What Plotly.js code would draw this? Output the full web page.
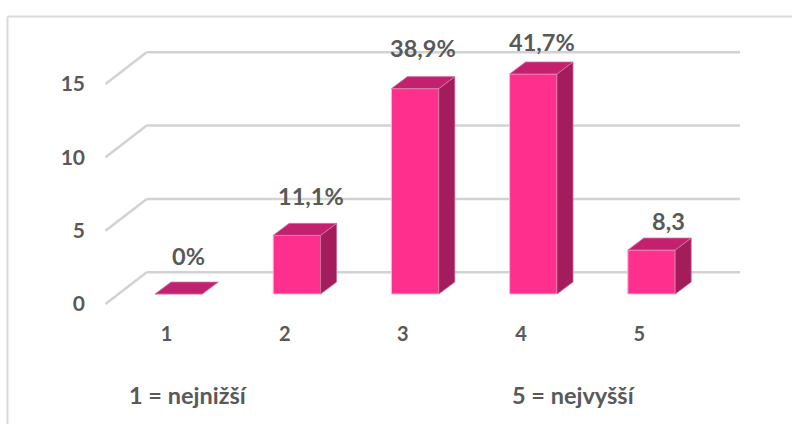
<!DOCTYPE html>
<html>
<head>
<meta charset="utf-8">
<script src="https://cdn.plot.ly/plotly-3.0.1.min.js"></script>
<style>html,body{margin:0;padding:0;background:#fff}#c{width:792px;height:424px}</style>
</head>
<body>
<div id="c"></div>
<script>
// Data
const categories = [1, 2, 3, 4, 5];
const seriesValues = [0, 4, 14, 15, 3];
const dataLabels = ['0%', '11,1%', '38,9%', '41,7%', '8,3'];
const yTicks = [0, 5, 10, 15];
const captions = ['1 = nejnižší', '5 = nejvyšší'];

// Pixel scale of the canvas (one axis frame spans the page)
const W = 792, H = 424;
const pxPerCat = 118.2, pxPerUnit = 14.67;
const xOriginPx = 166.5, yOriginPx = 304;   // where category 1 / value 0 falls
const xr = [1 - xOriginPx / pxPerCat, 1 + (W - xOriginPx) / pxPerCat];
const yr = [(yOriginPx - H) / pxPerUnit, yOriginPx / pxPerUnit];
const dX = p => p / pxPerCat, dY = p => p / pxPerUnit;
const pxX = p => 1 + (p - xOriginPx) / pxPerCat;

// 3D projection offsets
const frontDX = dX(12.2), frontDY = dY(10);
const depthDX = dX(16), depthDY = dY(12);
const barW = dX(47.4);
const floorBackDY = dY(31.7);
const wallLeft = pxX(146.7), wallRight = pxX(740), floorLeft = pxX(105.5);

const FRONT = '#FF2F8E', TOP = '#C2216F', SIDE = '#A31D5C', EDGE = '#F3BBD4';
const GRID = '#D2D2D2', TEXT = '#595959', FONT = 'Lato, Carlito, "Noto Sans", sans-serif';

// Top and side faces, derived from the values
const topX = [], topY = [], sideX = [], sideY = [];
categories.forEach((c, i) => {
  const l = c + frontDX - barW / 2, r = c + frontDX + barW / 2;
  const b = frontDY, t = frontDY + seriesValues[i];
  topX.push(l, r, r + depthDX, l + depthDX, l, null);
  topY.push(t, t, t + depthDY, t + depthDY, t, null);
  if (seriesValues[i] > 0) {
    sideX.push(r, r + depthDX, r + depthDX, r, r, null);
    sideY.push(b, b + depthDY, t + depthDY, t, b, null);
  }
});

const traces = [
  { type: 'bar', x: categories.map(c => c + frontDX), y: seriesValues,
    base: categories.map(() => frontDY), width: barW,
    marker: { color: FRONT, line: { color: EDGE, width: 1 } }, hoverinfo: 'skip' },
  { type: 'scatter', mode: 'lines', x: sideX, y: sideY, fill: 'toself', fillcolor: SIDE,
    line: { color: '#C76A97', width: 0.75 }, hoverinfo: 'skip' },
  { type: 'scatter', mode: 'lines', x: topX, y: topY, fill: 'toself', fillcolor: TOP,
    line: { color: '#D77CA8', width: 0.75 }, hoverinfo: 'skip' }
];

// Gridlines on back wall and side wall
const shapes = [];
yTicks.forEach(t => {
  const yb = t + floorBackDY;
  shapes.push({ type: 'line', layer: 'below', x0: wallLeft, x1: wallRight, y0: yb, y1: yb,
    line: { color: GRID, width: 2.5 } });
  shapes.push({ type: 'line', layer: 'below', x0: floorLeft, x1: wallLeft, y0: t, y1: yb,
    line: { color: GRID, width: 2.5 } });
});
// Chart frame: only left and top edges are visible
shapes.push({ type: 'line', xref: 'paper', yref: 'paper', x0: 7.5 / W, x1: 7.5 / W, y0: 0, y1: 1 - 16.5 / H,
  line: { color: '#DADADA', width: 2 } });
shapes.push({ type: 'line', xref: 'paper', yref: 'paper', x0: 7.5 / W, x1: 1, y0: 1 - 16.5 / H, y1: 1 - 16.5 / H,
  line: { color: '#DADADA', width: 2 } });

// Data labels (hand-placed in the original, so each has its own nudge)
const labelNudgeX = [10, 14, 8, 9, 17];
const labelNudgeY = [38, 39, 41, 32, 29];
const annotations = dataLabels.map((s, i) => ({
  x: categories[i] + frontDX, y: seriesValues[i] + frontDY, text: '<b>' + s + '</b>',
  xshift: labelNudgeX[i], yshift: labelNudgeY[i], showarrow: false,
  xanchor: 'center', yanchor: 'middle', font: { family: FONT, size: 23.5, color: TEXT }
}));
annotations.push(
  { xref: 'x', yref: 'y', x: pxX(188), y: (yOriginPx - 395) / pxPerUnit, text: '<b>' + captions[0] + '</b>',
    showarrow: false, xanchor: 'center', yanchor: 'middle', font: { family: FONT, size: 23.5, color: TEXT } },
  { xref: 'x', yref: 'y', x: pxX(574), y: (yOriginPx - 395) / pxPerUnit, text: '<b>' + captions[1] + '</b>',
    showarrow: false, xanchor: 'center', yanchor: 'middle', font: { family: FONT, size: 23.5, color: TEXT } }
);

const layout = {
  width: W, height: H, margin: { l: 0, r: 0, t: 0, b: 0 },
  paper_bgcolor: '#fff', plot_bgcolor: '#fff', showlegend: false,
  barmode: 'overlay',
  xaxis: { range: xr, anchor: 'free', position: 1 - 320 / H, tickmode: 'array', tickvals: categories,
    ticktext: categories.map(String), showgrid: false, zeroline: false, showline: false, ticks: '',
    tickfont: { family: FONT, size: 20, color: TEXT, weight: 700 }, fixedrange: true },
  yaxis: { range: yr, anchor: 'free', position: 85 / W, tickmode: 'array', tickvals: yTicks,
    ticktext: yTicks.map(String), showgrid: false, zeroline: false, showline: false, ticks: '',
    tickfont: { family: FONT, size: 21, color: TEXT, weight: 700 }, fixedrange: true },
  shapes, annotations
};

Plotly.newPlot('c', traces, layout, { staticPlot: true, displayModeBar: false });
</script>
</body>
</html>
